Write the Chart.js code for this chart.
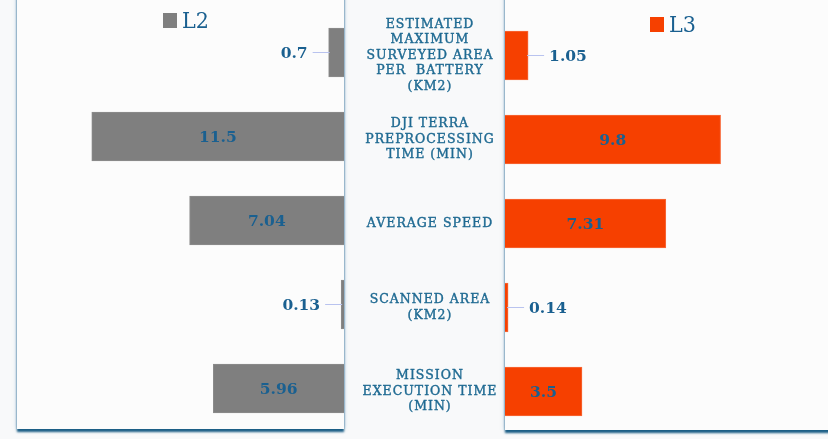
<!DOCTYPE html>
<html>
<head>
<meta charset="utf-8">
<script src="https://cdn.jsdelivr.net/npm/chart.js@4.4.1/dist/chart.umd.min.js"></script>
<style>
  html, body { margin: 0; padding: 0; }
  body { width: 828px; height: 439px; overflow: hidden; background: #f8f9fa; position: relative; font-family: "DejaVu Serif", serif; }
  .card { position: absolute; background: #fcfcfc; box-shadow: 0 3px 2px 0 #1c5f86, 0 0 4px rgba(80,140,190,0.5); }
  #cardL { left: 17px; top: -20px; width: 327px; height: 449px; }
  #cardR { left: 505px; top: -20px; width: 340px; height: 450px; }
  .wrap { position: absolute; top: 0; height: 439px; }
  .leg { position: absolute; display: flex; align-items: center; color: #1a6090; font-family: "DejaVu Serif Condensed", "DejaVu Serif", serif; font-stretch: condensed; font-size: 23px; line-height: 23px; }
  .leg i { display: inline-block; width: 14px; height: 15px; margin-right: 5px; }
</style>
</head>
<body>
<div class="card" id="cardL"></div>
<div class="card" id="cardR"></div>
<div class="wrap" style="left:15px;width:329px"><canvas id="leftC"></canvas></div>
<div class="wrap" style="left:344px;width:491px"><canvas id="rightC"></canvas></div>
<div class="leg" style="left:163px;top:9px"><i style="background:#7f7f7f"></i>L2</div>
<div class="leg" style="left:650px;top:13px"><i style="background:#f64000"></i>L3</div>
<script>
const categories = [
  ["ESTIMATED", "MAXIMUM", "SURVEYED AREA", "PER  BATTERY", "(KM2)"],
  ["DJI TERRA", "PREPROCESSING", "TIME (MIN)"],
  ["AVERAGE SPEED"],
  ["SCANNED AREA", "(KM2)"],
  ["MISSION", "EXECUTION TIME", "(MIN)"]
];
const l2Values = [0.7, 11.5, 7.04, 0.13, 5.96];
const l3Values = [1.05, 9.8, 7.31, 0.14, 3.5];

const textColor = "#1a6090";

// value labels: inside the bar if it is wide enough, otherwise outside with a small leader line
const valueLabels = {
  id: "valueLabels",
  afterDatasetsDraw(chart) {
    const ctx = chart.ctx;
    const meta = chart.getDatasetMeta(0);
    const vals = chart.data.datasets[0].data;
    const dir = chart.options.scales.x.reverse ? -1 : 1;
    ctx.save();
    ctx.font = "bold 15.5px 'DejaVu Serif'";
    ctx.fillStyle = textColor;
    ctx.textBaseline = "middle";
    meta.data.forEach((bar, i) => {
      const w = Math.abs(bar.x - bar.base);
      const txt = String(vals[i]);
      if (w > 40) {
        ctx.textAlign = "center";
        ctx.fillText(txt, (bar.x + bar.base) / 2, bar.y + 1);
      } else {
        ctx.strokeStyle = "#b9c3ef";
        ctx.lineWidth = 1;
        ctx.beginPath();
        ctx.moveTo(bar.x - dir, bar.y);
        ctx.lineTo(bar.x + dir * 16, bar.y);
        ctx.stroke();
        ctx.textAlign = dir > 0 ? "left" : "right";
        ctx.fillText(txt, bar.x + dir * 21, bar.y + 1);
      }
    });
    ctx.restore();
  }
};

// category names in the gap between the two panels
const categoryLabels = {
  id: "categoryLabels",
  afterDraw(chart) {
    const ctx = chart.ctx;
    const y = chart.scales.y;
    const cx = chart.chartArea.left - 75;
    const lh = 15.6;
    ctx.save();
    ctx.font = "12.5px 'DejaVu Serif'";
    ctx.letterSpacing = "1px";
    ctx.fillStyle = "#1f6a92";
    ctx.strokeStyle = "#1f6a92";
    ctx.lineWidth = 0.4;
    ctx.textAlign = "center";
    ctx.textBaseline = "middle";
    categories.forEach((lines, i) => {
      const yc = y.getPixelForValue(i);
      const top = yc - (lines.length - 1) * lh / 2;
      lines.forEach((ln, j) => {
        ctx.fillText(ln, cx, top + j * lh);
        ctx.strokeText(ln, cx, top + j * lh);
      });
    });
    ctx.restore();
  }
};

function barOptions(reverse, pad) {
  return {
    indexAxis: "y",
    responsive: true,
    maintainAspectRatio: false,
    animation: false,
    layout: { padding: pad },
    scales: {
      x: { display: false, min: 0, max: 15, reverse: reverse },
      y: { display: false }
    },
    plugins: { legend: { display: false }, tooltip: { enabled: false } }
  };
}

new Chart(document.getElementById("leftC"), {
  type: "bar",
  data: {
    labels: categories.map(c => c.join(" ")),
    datasets: [{
      label: "L2",
      data: l2Values,
      backgroundColor: "#7f7f7f",
      borderColor: "#8c8c8c",
      borderWidth: 1,
      barThickness: 49
    }]
  },
  options: barOptions(true, { top: 10.5, bottom: 8.5, left: 0, right: 0 }),
  plugins: [valueLabels]
});

new Chart(document.getElementById("rightC"), {
  type: "bar",
  data: {
    labels: categories.map(c => c.join(" ")),
    datasets: [{
      label: "L3",
      data: l3Values,
      backgroundColor: "#f64000",
      borderColor: "#f76a3a",
      borderWidth: 1,
      barThickness: 49
    }]
  },
  options: barOptions(false, { top: 13.5, bottom: 5.5, left: 161, right: 0 }),
  plugins: [valueLabels, categoryLabels]
});
</script>
</body>
</html>
